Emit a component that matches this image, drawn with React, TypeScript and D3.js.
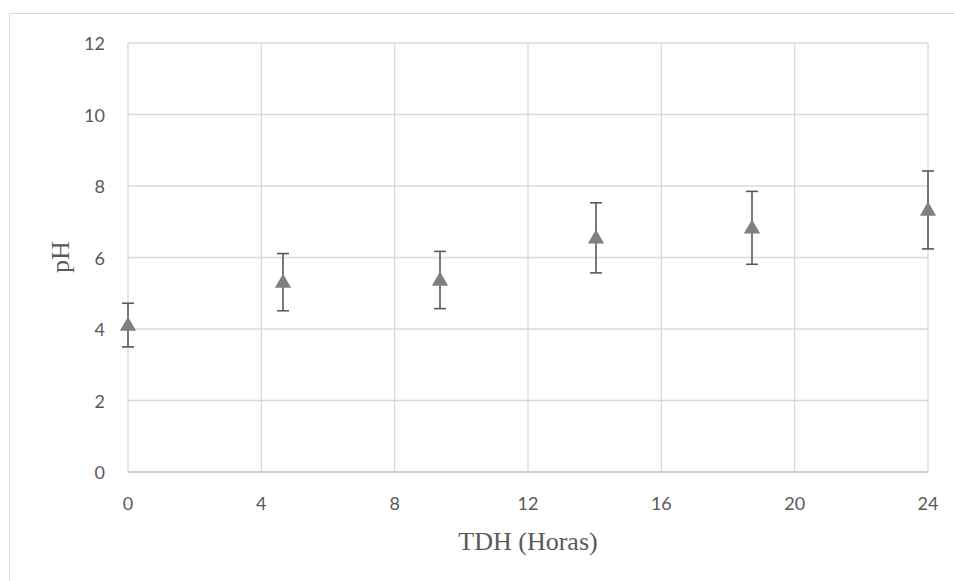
import React from "react";
import * as d3 from "d3";

const tdh = [0, 4.65, 9.36, 14.04, 18.72, 24];
const ph = [4.11, 5.31, 5.37, 6.55, 6.83, 7.33];
const errs = [0.61, 0.8, 0.8, 0.98, 1.02, 1.09];
const xTicks = [0, 4, 8, 12, 16, 20, 24];
const yTicks = [0, 2, 4, 6, 8, 10, 12];

const W = 954;
const H = 581;
const left = 128, right = 928, top = 43, bottom = 472;

export default function App() {
  const x = d3.scaleLinear().domain([0, 24]).range([left, right]);
  const y = d3.scaleLinear().domain([0, 12]).range([bottom, top]);
  const tri = d3.symbol().type(d3.symbolTriangle).size(115)();
  const tickFont = "Lato, 'Open Sans', sans-serif";
  const serif = "'Liberation Serif', 'DejaVu Serif', serif";
  return (
    <svg width={W} height={H} style={{ position: "absolute", left: 0, top: 0 }}>
      <rect x={0} y={0} width={W} height={H} fill="#fff" />
      <rect x={9.5} y={13.5} width={W + 10} height={H + 10} fill="none" stroke="#d9d9d9" strokeWidth={1} />
      {yTicks.map((t) => (
        <line key={"gy" + t} x1={left} x2={right} y1={y(t)} y2={y(t)} stroke={t === 0 ? "#bfbfbf" : "#d9d9d9"} strokeWidth={t === 0 ? 1.5 : 1.3} />
      ))}
      {xTicks.map((t) => (
        <line key={"gx" + t} x1={x(t)} x2={x(t)} y1={top} y2={bottom} stroke="#d9d9d9" strokeWidth={1.3} />
      ))}
      {yTicks.map((t) => (
        <text key={"ly" + t} x={105} y={y(t) + 1} dy="0.35em" textAnchor="end" fontFamily={tickFont} fontSize={18} fill="#595959">{t}</text>
      ))}
      {xTicks.map((t) => (
        <text key={"lx" + t} x={x(t)} y={504} dy="0.35em" textAnchor="middle" fontFamily={tickFont} fontSize={18} fill="#595959">{t}</text>
      ))}
      {tdh.map((v, i) => {
        const cx = x(v);
        const y1 = y(ph[i] + errs[i]);
        const y2 = y(ph[i] - errs[i]);
        return (
          <g key={"e" + i} stroke="#595959" strokeWidth={1.6}>
            <line x1={cx} x2={cx} y1={y1} y2={y2} />
            <line x1={cx - 6} x2={cx + 6} y1={y1} y2={y1} />
            <line x1={cx - 6} x2={cx + 6} y1={y2} y2={y2} />
          </g>
        );
      })}
      {tdh.map((v, i) => (
        <path key={"p" + i} d={tri as string} transform={`translate(${x(v)},${y(ph[i]) + 1})`} fill="#808080" />
      ))}
      <text x={528} y={550} textAnchor="middle" fontFamily={serif} fontSize={26} fill="#595959">TDH (Horas)</text>
      <text transform={`translate(69,257) rotate(-90)`} textAnchor="middle" fontFamily={serif} fontSize={26} fill="#595959">pH</text>
    </svg>
  );
}
